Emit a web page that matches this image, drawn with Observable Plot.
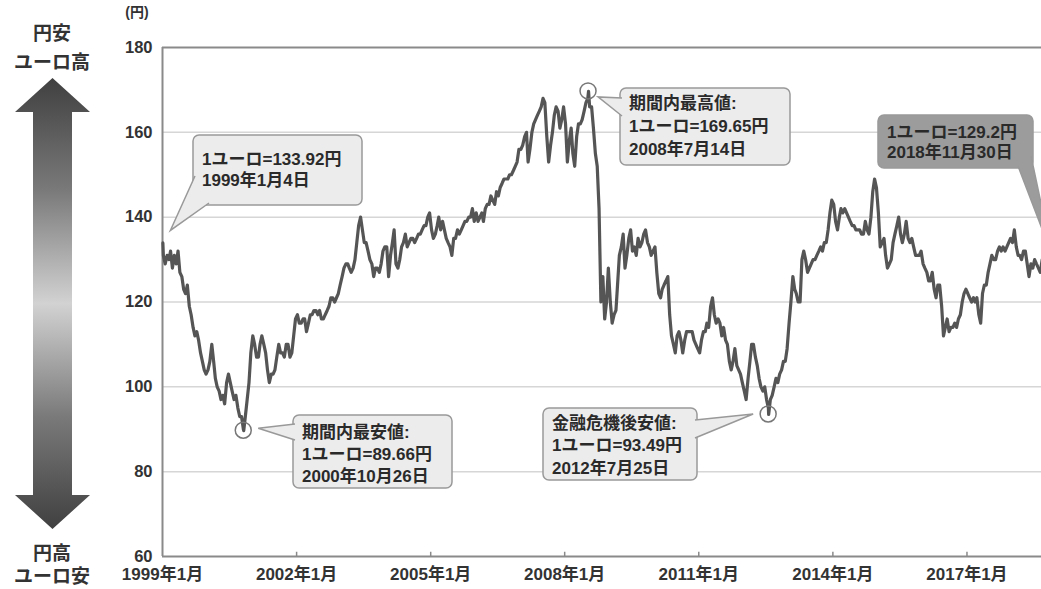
<!DOCTYPE html>
<html><head><meta charset="utf-8">
<script src="https://cdn.jsdelivr.net/npm/d3@7"></script>
<script src="https://cdn.jsdelivr.net/npm/@observablehq/plot@0.6"></script>
<style>
body{margin:0;background:#fff;}
#wrap{position:relative;width:1041px;height:589px;overflow:hidden;background:#fff;font-family:"Liberation Sans","Noto Sans CJK JP",sans-serif;}
.lab{position:absolute;font-weight:bold;color:#333;white-space:nowrap;transform:translate(-50%,-50%);line-height:1;}
#arrow{position:absolute;left:15px;top:78px;width:75px;height:451px;
background:linear-gradient(to bottom,#404040 0%,#7a7a7a 25%,#d2d2d2 50%,#7a7a7a 75%,#404040 100%);
clip-path:polygon(37.5px 0,75px 34px,57px 34px,57px 417px,75px 417px,37.5px 451px,0 417px,18px 417px,18px 34px,0 34px);}
#chart{position:absolute;left:0;top:0;}
</style></head>
<body>
<div id="wrap">
  <div id="chart"></div>
  <div id="arrow"></div>
  <div class="lab" style="left:52px;top:33px;font-size:19px">円安</div>
  <div class="lab" style="left:52px;top:62px;font-size:19px">ユーロ高</div>
  <div class="lab" style="left:52px;top:553px;font-size:19px">円高</div>
  <div class="lab" style="left:52px;top:576px;font-size:19px">ユーロ安</div>
  <div class="lab" style="left:137px;top:12px;font-size:14px">(円)</div>
</div>
<script>
// EUR/JPY, two readings per month (early / late)
const rate1999 = [131,129, 131,130, 132,128, 131,129, 132,127, 126,123, 122,124, 119,117, 114,112, 113,111, 108,106, 104,103];
const rate2000 = [104,106, 110,106, 102,100, 99,97, 98,96, 101,103, 101,99, 97,98, 95,93, 93,90, 93,97, 101,108];
const rate2001 = [112,110, 107,107, 110,112, 110,108, 104,101, 103,103, 104,107, 110,108, 108,107, 110,110, 107,108, 112,116];
const rate2002 = [117,115, 115,116, 116,113, 115,117, 117,118, 118,117, 118,116, 116,117, 118,119, 121,121, 120,121, 122,124];
const rate2003 = [126,128, 129,129, 128,127, 128,130, 134,138, 140,137, 134,134, 132,130, 129,126, 128,128, 127,129, 132,133];
const rate2004 = [133,126, 131,134, 137,129, 128,130, 133,134, 136,133, 134,135, 135,134, 135,136, 136,137, 138,138, 140,141];
const rate2005 = [137,135, 136,138, 140,137, 139,137, 135,134, 133,131, 135,135, 137,136, 137,138, 139,139, 140,140, 142,139];
const rate2006 = [141,139, 140,141, 139,142, 143,143, 145,144, 143,146, 145,147, 148,149, 149,149, 150,150, 151,152, 153,156];
const rate2007 = [156,157, 159,160, 153,156, 160,162, 163,164, 165,166, 168,167, 159,153, 157,160, 164,166, 165,161, 163,166];
const rate2008 = [162,153, 158,161, 155,152, 159,162, 162,163, 165,167, 168,166, 166,161, 155,152, 142,120, 126,116, 120,128];
const rate2009 = [120,115, 117,118, 124,131, 133,136, 128,131, 135,137, 132,133, 131,135, 133,134, 136,137, 134,133, 131,132];
const rate2010 = [133,127, 122,121, 123,124, 125,126, 117,112, 110,108, 112,113, 111,108, 111,113, 113,113, 113,111, 110,109];
const rate2011 = [108,111, 113,113, 115,114, 119,121, 117,115, 116,115, 112,114, 111,110, 106,104, 106,109, 105,104, 103,101];
const rate2012 = [99,97, 102,106, 110,110, 107,105, 102,100, 99,100, 97,95, 97,98, 100,102, 101,103, 104,106, 106,109];
const rate2013 = [115,120, 126,123, 122,120, 120,130, 132,130, 127,128, 129,130, 130,131, 132,133, 132,134, 134,137, 141,144];
const rate2014 = [143,139, 137,140, 142,141, 142,141, 140,139, 138,138, 137,137, 137,136, 136,139, 137,136, 140,146, 149,147];
const rate2015 = [141,133, 134,135, 131,128, 129,130, 134,136, 138,140, 136,134, 136,139, 135,134, 135,133, 131,131, 131,132];
const rate2016 = [129,128, 127,125, 125,127, 123,121, 124,124, 119,112, 114,116, 113,114, 114,115, 114,116, 117,120, 122,123];
const rate2017 = [122,121, 120,121, 120,121, 117,115, 122,124, 124,127, 129,131, 130,130, 132,133, 132,133, 132,133, 134,135];
const rate2018 = [134,137, 133,131, 131,130, 132,132, 129,126, 129,128, 130,129, 128,127, 130,131, 130,128, 129,128];
const yearRates = [rate1999,rate2000,rate2001,rate2002,rate2003,rate2004,rate2005,rate2006,rate2007,rate2008,
  rate2009,rate2010,rate2011,rate2012,rate2013,rate2014,rate2015,rate2016,rate2017,rate2018];

// annotated points
const noteDates = ["1999-01-04","2000-10-26","2008-07-14","2012-07-25","2018-11-30"];
const noteValues = [133.92, 89.66, 169.65, 93.49, 129.2];
const noteTexts = [
  ["1ユーロ=133.92円","1999年1月4日"],
  ["期間内最安値:","1ユーロ=89.66円","2000年10月26日"],
  ["期間内最高値:","1ユーロ=169.65円","2008年7月14日"],
  ["金融危機後安値:","1ユーロ=93.49円","2012年7月25日"],
  ["1ユーロ=129.2円","2018年11月30日"]
];

const yTicks = [60, 80, 100, 120, 140, 160, 180];
const xTickYears = [1999, 2002, 2005, 2008, 2011, 2014, 2017];

// build the series table
const series = [];
yearRates.forEach((arr, yi) => {
  arr.forEach((v, i) => {
    const m = Math.floor(i / 2), d = i % 2 ? 23 : 8;
    series.push({date: new Date(Date.UTC(1999 + yi, m, d)), value: v});
  });
});
noteDates.forEach((s, i) => series.push({date: new Date(s + "T00:00:00Z"), value: noteValues[i]}));
series.sort((a, b) => a.date - b.date);

const xTicks = xTickYears.map(y => new Date(Date.UTC(y, 0, 1)));
const x0 = new Date(Date.UTC(1999, 0, 1)), x1 = new Date(Date.UTC(2018, 11, 1));

const FONT = '"Liberation Sans","Noto Sans CJK JP",sans-serif';
const chart = Plot.plot({
  width: 1041, height: 589,
  marginLeft: 162, marginRight: 0, marginTop: 47, marginBottom: 33,
  style: {fontFamily: FONT, fontSize: "17px", fontWeight: "bold", color: "#333", background: "transparent"},
  x: {type: "utc", domain: [x0, x1], range: [162, 1052]},
  y: {domain: [60, 180]},
  marks: [
    Plot.gridY(yTicks.slice(1, -1), {stroke: "#d6d6d6", strokeOpacity: 1, strokeWidth: 1.5}),
    Plot.ruleY([60, 180], {stroke: "#8a8a8a", strokeWidth: 2}),
    Plot.ruleX([x0], {stroke: "#8a8a8a", strokeWidth: 2}),
    Plot.ruleX(xTicks.slice(1), {y1: 60, y2: 61, stroke: "#8a8a8a", strokeWidth: 1.5}),
    Plot.lineY(series, {x: "date", y: "value", stroke: "#555", strokeWidth: 3.2, strokeLinejoin: "round"}),
    Plot.axisY(yTicks, {tickSize: 0, tickPadding: 10, label: null, fontSize: 16.5}),
    Plot.axisX(xTicks, {tickSize: 0, tickPadding: 11, label: null,
      tickFormat: d => `${d.getUTCFullYear()}年${d.getUTCMonth() + 1}月`})
  ]
});
document.getElementById("chart").appendChild(chart);

// callout layout (pixel boxes), anchored to data points through the scales
const noteLayout = [
  {x: 193, y: 135, w: 169, h: 70, top: 24, lh: 21, fill: "#ececec", circle: false, base: [[195, 176], [209, 203]], tip: [8, -12]},
  {x: 293, y: 415, w: 159, h: 73, top: 17, lh: 22, fill: "#ececec", circle: true, base: [[295, 424], [295, 440]], tip: [15, -2]},
  {x: 620, y: 88, w: 170, h: 77, top: 15, lh: 23, fill: "#ececec", circle: true, base: [[622, 98], [622, 116]], tip: [10, 6]},
  {x: 543, y: 408, w: 154, h: 72, top: 15, lh: 22.5, fill: "#ececec", circle: true, base: [[695, 420], [695, 438]], tip: [-15, 0]},
  {x: 878, y: 115, w: 155, h: 53, top: 17, lh: 20, fill: "#9c9c9c", circle: false, base: [[1018, 166], [1031, 156]], tip: [0, -8]}
];
const sx = chart.scale("x"), sy = chart.scale("y");
const svg = d3.select(chart);
const g = svg.append("g").attr("font-family", FONT).attr("font-weight", "bold")
  .attr("font-size", 17).attr("text-anchor", "start");
noteLayout.forEach((L, i) => {
  const px = sx.apply(new Date(noteDates[i] + "T00:00:00Z")), py = sy.apply(noteValues[i]);
  const tx = px + L.tip[0], ty = py + L.tip[1];
  if (L.circle) g.append("circle").attr("cx", px).attr("cy", py).attr("r", 8)
      .attr("fill", "none").attr("stroke", "#777").attr("stroke-width", 1.5);
  g.append("rect").attr("x", L.x).attr("y", L.y).attr("width", L.w).attr("height", L.h)
    .attr("rx", 6).attr("fill", L.fill).attr("stroke", "#999").attr("stroke-width", 1.5);
  g.append("polygon").attr("points", [L.base[0], [tx, ty], L.base[1]].map(p => p.join(",")).join(" "))
    .attr("fill", L.fill);
  g.append("polyline").attr("points", [L.base[0], [tx, ty], L.base[1]].map(p => p.join(",")).join(" "))
    .attr("fill", "none").attr("stroke", "#999").attr("stroke-width", 1.5);
  noteTexts[i].forEach((t, j) => {
    g.append("text").attr("x", L.x + 9).attr("y", L.y + L.top + j * L.lh)
      .attr("dy", "0.35em").attr("fill", "#2a2a2a").attr("text-anchor", "start").text(t);
  });
});
</script>
</body></html>
